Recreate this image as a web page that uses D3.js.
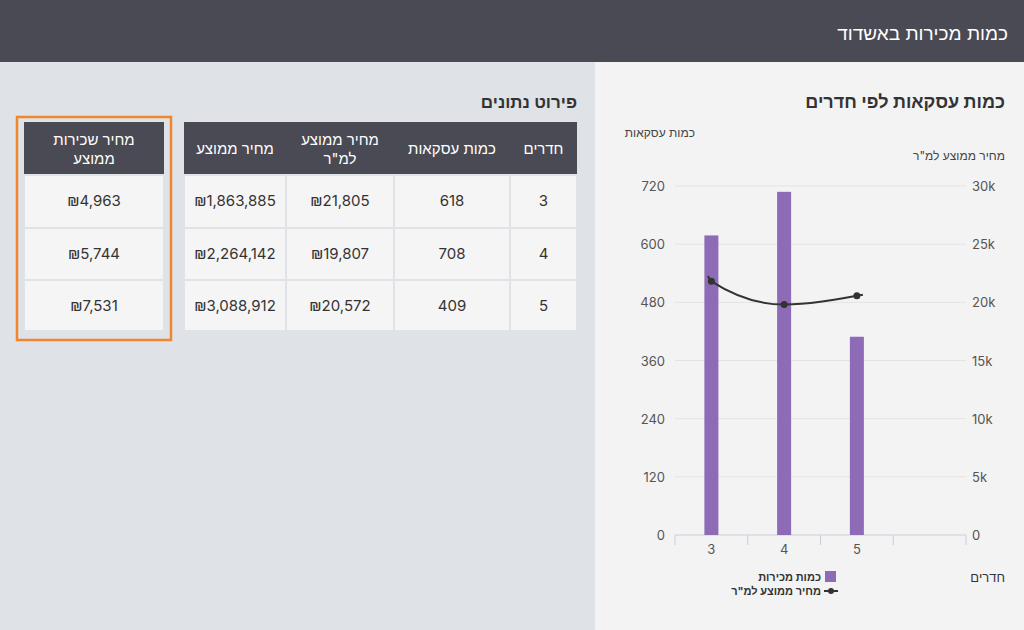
<!DOCTYPE html><html><head><meta charset="utf-8"><script src="https://cdn.jsdelivr.net/npm/d3@7"></script>
<style>body{margin:0;font-family:Inter,"Noto Sans",sans-serif}</style></head><body><svg id="c" width="1024" height="630"></svg>
<script>
const rooms=["3","4","5"];
const deals=[618,708,409];
const pricePerM=[21805,19807,20572];
const avgPrice=[1863885,2264142,3088912];
const avgRent=[4963,5744,7531];
const leftTicks=[0,120,240,360,480,600,720];
const rightTicks=[0,5000,10000,15000,20000,25000,30000];
const svg=d3.select("#c"),F="Inter,'Noto Sans',sans-serif";
svg.append("rect").attr("width",1024).attr("height",630).attr("fill","#dfe2e6");
svg.append("rect").attr("x",595).attr("y",62).attr("width",429).attr("height",568).attr("fill","#f3f3f3");
svg.append("rect").attr("width",1024).attr("height",62).attr("fill","#4a4a54");
const T=(x,y,s,o={})=>svg.append("text").attr("x",x).attr("y",y).text(s).attr("font-family",F)
 .attr("font-size",o.fs||15).attr("fill",o.c||"#333").attr("text-anchor",o.a||"end").attr("font-weight",o.w||400);
T(1008,40,"כמות מכירות באשדוד",{fs:19,c:"#fff"});
T(1005,108,"כמות עסקאות לפי חדרים",{fs:18,w:600});
T(577,108,"פירוט נתונים",{fs:17,w:600});
// table
const cols=[{x0:510,x1:577,h:["חדרים"],v:rooms},{x0:394,x1:510,h:["כמות עסקאות"],v:deals.map(String)},
{x0:286,x1:394,h:["מחיר ממוצע","למ\"ר"],v:pricePerM.map(d=>"₪"+d3.format(",")(d))},
{x0:184,x1:286,h:["מחיר ממוצע"],v:avgPrice.map(d=>"₪"+d3.format(",")(d))}];
const rowsY=[175,228,280,331];
function table(cols){
 cols.forEach(c=>{
  svg.append("rect").attr("x",c.x0).attr("y",122).attr("width",c.x1-c.x0).attr("height",53).attr("fill","#4a4a54");
  const cx=(c.x0+c.x1)/2;
  c.h.forEach((h,i)=>T(cx,c.h.length==1?154:145+i*19,h,{a:"middle",c:"#fff"}));
  c.v.forEach((v,i)=>{
   svg.append("rect").attr("x",c.x0).attr("y",rowsY[i]).attr("width",c.x1-c.x0).attr("height",rowsY[i+1]-rowsY[i]).attr("fill","#f5f5f5").attr("stroke","#dfe2e6").attr("stroke-width",2);
   T(cx,rowsY[i]+31,v,{a:"middle"});
  });
 });
}
table(cols);
table([{x0:24,x1:164,h:["מחיר שכירות","ממוצע"],v:avgRent.map(d=>"₪"+d3.format(",")(d))}]);
svg.append("rect").attr("x",17).attr("y",117).attr("width",154).attr("height",223).attr("fill","none").attr("stroke","#f0862e").attr("stroke-width",2.5);
// chart
const x=d3.scaleBand().domain([...rooms,""]).range([675,966]);
const yl=d3.scaleLinear().domain([0,720]).range([535,186]);
const yr=d3.scaleLinear().domain([0,30000]).range([535,186]);
T(695,137,"כמות עסקאות",{fs:12,c:"#444"});
T(1005,160,"מחיר ממוצע למ\"ר",{fs:12,c:"#444"});
leftTicks.forEach(t=>{if(t>0)svg.append("line").attr("x1",675).attr("x2",966).attr("y1",yl(t)).attr("y2",yl(t)).attr("stroke","#e3e3e3");
 T(665,yl(t)+5,t,{fs:13,c:"#555"});});
rightTicks.forEach(t=>T(972,yr(t)+5,t?t/1000+"k":"0",{fs:13,c:"#555",a:"start"}));
svg.append("line").attr("x1",675).attr("x2",966).attr("y1",535).attr("y2",535).attr("stroke","#ccd");
x.domain().concat(["end"]).forEach((d,i)=>{const xx=675+i*x.bandwidth();svg.append("line").attr("x1",xx).attr("x2",xx).attr("y1",535).attr("y2",545).attr("stroke","#ccd");});
rooms.forEach(r=>T(x(r)+x.bandwidth()/2,554,r,{fs:13,c:"#555",a:"middle"}));
svg.selectAll(".b").data(rooms).enter().append("rect").attr("x",d=>x(d)+x.bandwidth()/2-7).attr("width",14)
 .attr("y",(d,i)=>yl(deals[i])).attr("height",(d,i)=>535-yl(deals[i])).attr("fill","#8e6bb6");
const pts=rooms.map((r,i)=>[x(r)+x.bandwidth()/2,yr(pricePerM[i])]);
svg.append("path").attr("d",d3.line().curve(d3.curveMonotoneX)([[708,276],...pts])).attr("fill","none").attr("stroke","#333").attr("stroke-width",2);
pts.forEach(p=>svg.append("circle").attr("cx",p[0]).attr("cy",p[1]).attr("r",3.5).attr("fill","#333"));
svg.append("line").attr("x1",pts[2][0]).attr("x2",pts[2][0]+6).attr("y1",pts[2][1]).attr("y2",pts[2][1]-1).attr("stroke","#333").attr("stroke-width",2);
T(1005,582,"חדרים",{fs:13});
svg.append("rect").attr("x",825).attr("y",571).attr("width",11).attr("height",11).attr("fill","#8e6bb6");
T(821,581,"כמות מכירות",{fs:11,w:700});
svg.append("line").attr("x1",824).attr("x2",838).attr("y1",591).attr("y2",591).attr("stroke","#333").attr("stroke-width",2);
svg.append("circle").attr("cx",831).attr("cy",591).attr("r",3).attr("fill","#333");
T(821,595,"מחיר ממוצע למ\"ר",{fs:11,w:700});
</script></body></html>
